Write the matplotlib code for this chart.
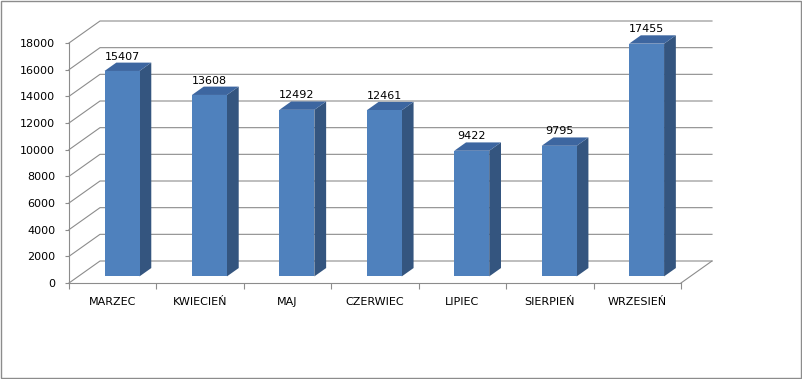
import matplotlib
matplotlib.use("Agg")
import numpy as np
import matplotlib.pyplot as plt
from matplotlib.patches import Polygon, Rectangle
from matplotlib.lines import Line2D
from matplotlib.transforms import IdentityTransform

# Values
months = ["MARZEC", "KWIECIEŃ", "MAJ", "CZERWIEC", "LIPIEC", "SIERPIEŃ", "WRZESIEŃ"]
values = [15407, 13608, 12492, 12461, 9422, 9795, 17455]
y_ticks = list(range(0, 18001, 2000))

# 3D look (pixels)
depth_dx, depth_dy = 31, 22
bar_front, bar_back = 0.30, 0.68
half_w = 0.2

front_col = "#4F81BD"
side_col = "#34557F"
top_col = "#3D66A0"
grid_col = "#8C8C8C"

plt.rcParams['font.family'] = ['DejaVu Sans']

fig = plt.figure(figsize=(8.02, 3.79), dpi=100)
ax = fig.add_axes([69 / 802, 96 / 379, 612 / 802, 240 / 379])
ax.set_xlim(-0.5, len(months) - 0.5)
ax.set_ylim(0, 18000)
ax.patch.set_alpha(0)

for s in ["top", "right"]:
    ax.spines[s].set_visible(False)
for s in ["left", "bottom"]:
    ax.spines[s].set_color(grid_col)
    ax.spines[s].set_linewidth(0.8)

ax.set_yticks(y_ticks)
ax.tick_params(axis="y", length=3, color=grid_col, labelsize=8, pad=7)
ax.set_xticks(np.arange(-0.5, len(months)))
ax.set_xticklabels([])
ax.tick_params(axis="x", which="major", length=4, color=grid_col)
ax.set_xticks(np.arange(len(months)), minor=True)
ax.set_xticklabels(months, minor=True)
ax.tick_params(axis="x", which="minor", length=0, labelsize=8, pad=10)


def px(x, v, f):
    # data point pushed back by depth fraction f, in display pixels
    p = ax.transData.transform((x, v))
    return (p[0] + f * depth_dx, p[1] + f * depth_dy)


def line(pts, **kw):
    xs, ys = zip(*pts)
    fig.add_artist(Line2D(xs, ys, transform=IdentityTransform(), **kw))


x0, x1 = -0.5, len(months) - 0.5
# back wall grid and side wall diagonals
for v in y_ticks:
    line([px(x0, v, 0), px(x0, v, 1), px(x1, v, 1)], color=grid_col, lw=0.8, zorder=1)
# floor right edge
line([px(x1, 0, 0), px(x1, 0, 1)], color=grid_col, lw=0.8, zorder=1)

# bars
for i, v in enumerate(values):
    l, r = i - half_w, i + half_w
    front = [px(l, 0, bar_front), px(r, 0, bar_front), px(r, v, bar_front), px(l, v, bar_front)]
    side = [px(r, 0, bar_front), px(r, 0, bar_back), px(r, v, bar_back), px(r, v, bar_front)]
    top = [px(l, v, bar_front), px(r, v, bar_front), px(r, v, bar_back), px(l, v, bar_back)]
    for pts, c in [(side, side_col), (top, top_col), (front, front_col)]:
        fig.add_artist(Polygon(pts, closed=True, facecolor=c, edgecolor="none",
                               transform=IdentityTransform(), zorder=3))
    lx = px(i, v, bar_front)[0]
    ly = px(i, v, bar_back)[1]
    fig.text(lx / 802, (ly + 1) / 379, str(v), ha="center", va="bottom", fontsize=8, zorder=4)

# outer border
fig.add_artist(Rectangle((0.5, 1.5), 800, 377, transform=IdentityTransform(),
                         facecolor="none", edgecolor="#8C8C8C", lw=1.0))

fig.savefig("out.png", dpi=100)
